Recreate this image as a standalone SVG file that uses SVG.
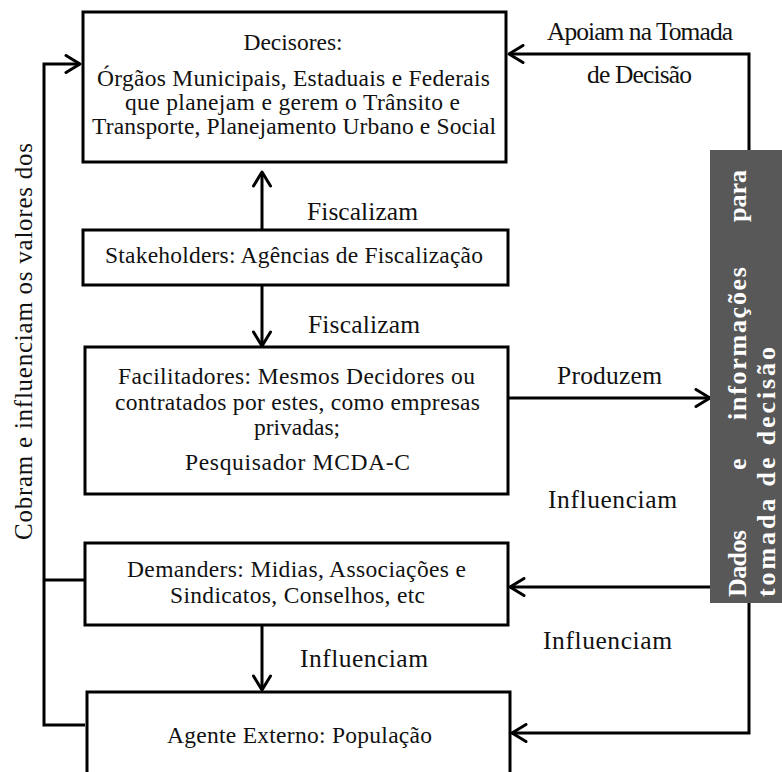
<svg xmlns="http://www.w3.org/2000/svg" width="782" height="772" viewBox="0 0 782 772">
<defs>
<marker id="arr" markerUnits="userSpaceOnUse" markerWidth="20" markerHeight="20" viewBox="0 0 20 20" refX="16" refY="10" orient="auto">
<path d="M2,1.5 L16,10 L2,18.5" fill="none" stroke="#000" stroke-width="3" stroke-linejoin="round" stroke-linecap="round"/>
</marker>
</defs>
<style>
.box{fill:#fff;stroke:#000;stroke-width:3}
.t{font-family:"Liberation Serif","Times New Roman",serif;font-size:23.5px;fill:#111}
.c{text-anchor:middle}
.lbl{font-family:"Liberation Serif","Times New Roman",serif;font-size:25.5px;fill:#111}
.w{font-family:"Liberation Serif","Times New Roman",serif;font-size:26px;font-weight:bold;fill:#fff}
.ln{fill:none;stroke:#000;stroke-width:3}
</style>
<rect width="782" height="772" fill="#fff"/>

<g id="connectors">
<path class="ln" d="M85,725 H44 V64 H80" marker-end="url(#arr)"/>
<path class="ln" d="M85,580 H44"/>
<path class="ln" d="M262,230 V172" marker-end="url(#arr)"/>
<path class="ln" d="M262,285 V346" marker-end="url(#arr)"/>
<path class="ln" d="M262,625 V690" marker-end="url(#arr)"/>
<path class="ln" d="M749,150 V54 H509" marker-end="url(#arr)"/>
<path class="ln" d="M508,398 H710" marker-end="url(#arr)"/>
<path class="ln" d="M711,587 H510" marker-end="url(#arr)"/>
<path class="ln" d="M749,603 V733 H512" marker-end="url(#arr)"/>
<text class="lbl" x="547" y="40" textLength="186">Apoiam na Tomada</text>
<text class="lbl" x="587" y="83" textLength="105">de Decisão</text>
<text class="lbl" x="307" y="220" textLength="111">Fiscalizam</text>
<text class="lbl" x="308" y="333" textLength="112">Fiscalizam</text>
<text class="lbl" x="557" y="384" textLength="105">Produzem</text>
<text class="lbl" x="548" y="508" textLength="129">Influenciam</text>
<text class="lbl" x="543" y="649" textLength="129">Influenciam</text>
<text class="lbl" x="300" y="667" textLength="128">Influenciam</text>
<text class="t" transform="translate(32,540) rotate(-90)" x="0" y="0" textLength="397" style="font-size:25px">Cobram e influenciam os valores dos</text>
</g>

<g id="decisores">
<rect class="box" x="83" y="12" width="423" height="150"/>
<text class="t c" x="293" y="50">Decisores:</text>
<text class="t" x="97" y="86" textLength="393">Órgãos Municipais, Estaduais e Federais</text>
<text class="t" x="125" y="110" textLength="335">que planejam  e gerem  o Trânsito e</text>
<text class="t" x="92" y="134" textLength="404">Transporte, Planejamento  Urbano e Social</text>
</g>

<g id="stakeholders">
<rect class="box" x="83" y="230" width="425" height="55"/>
<text class="t" x="105" y="263" textLength="378">Stakeholders:  Agências de Fiscalização</text>
</g>

<g id="facilitadores">
<rect class="box" x="85" y="347" width="423" height="147"/>
<text class="t" x="118" y="384" textLength="357">Facilitadores:  Mesmos Decidores ou</text>
<text class="t" x="115" y="410" textLength="365">contratados por estes, como empresas</text>
<text class="t c" x="297" y="435">privadas;</text>
<text class="t" x="185" y="470" textLength="225">Pesquisador MCDA-C</text>
</g>

<g id="demanders">
<rect class="box" x="85" y="543" width="423" height="82"/>
<text class="t" x="127" y="577" textLength="339">Demanders: Midias, Associações e</text>
<text class="t" x="170" y="603" textLength="255">Sindicatos, Conselhos, etc</text>
</g>

<g id="agente">
<rect class="box" x="87" y="692" width="423" height="100"/>
<text class="t" x="167" y="743" textLength="265">Agente Externo:  População</text>
</g>

<g id="dados">
<rect x="710" y="150" width="80" height="453" fill="#585858"/>
<g transform="translate(746,597) rotate(-90)">
<text class="w" x="0" y="0" textLength="67">Dados</text>
<text class="w" x="127" y="0">e</text>
<text class="w" x="177" y="0" textLength="153">informações</text>
<text class="w" x="427" y="0" text-anchor="end">para</text>
<text class="w" x="0" y="29" textLength="250">tomada de decisão</text>
</g>
</g>
</svg>
